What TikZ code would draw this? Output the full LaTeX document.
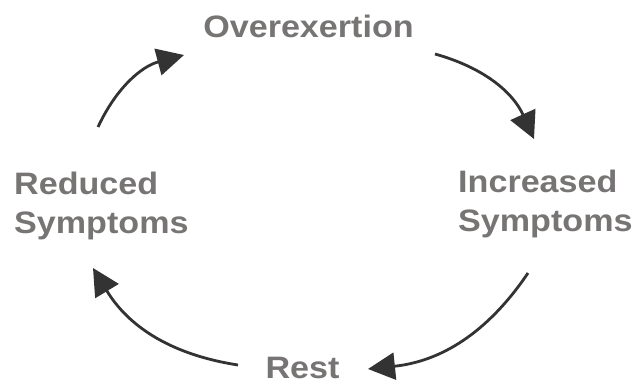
\documentclass[tikz,border=0pt]{standalone}
\usepackage{fontspec}
\setmainfont{Liberation Sans}
\usepackage{tikz}
\usetikzlibrary{arrows.meta}
\definecolor{labelgray}{RGB}{119,116,116}
\definecolor{arrowgray}{RGB}{51,51,51}

\begin{document}
\begin{tikzpicture}[x=1pt,y=1pt,
       lbl/.style={text=labelgray,font=\fontsize{31}{34.5}\selectfont\bfseries,inner sep=0pt,align=left,xscale=1.1,transform shape},
       cyc/.style={draw=arrowgray,line width=2.8pt,-{Triangle[length=27pt,width=27pt]},bend left=25}]
       \useasboundingbox (0,0) rectangle (642,384);
       \node[lbl,anchor=base] (over) at (308.5,347) {Overexertion};
       \node[lbl,anchor=north west] (incr) at (458,214.5) {Increased\\[5pt]Symptoms};
       \node[lbl,anchor=base] (rest) at (302.5,6) {Rest};
       \node[lbl,anchor=north west] (redu) at (14,212.5) {Reduced\\[5pt]Symptoms};
       \coordinate (a1) at ( 98,257); \coordinate (b1) at (184,329);
       \coordinate (a2) at (435,330); \coordinate (b2) at (534,245);
       \coordinate (a3) at (528,111); \coordinate (b3) at (368,15);
       \coordinate (a4) at (238, 19); \coordinate (b4) at ( 93,116);
       \draw[cyc] (a1) to (b1);
       \draw[cyc] (a2) to (b2);
       \draw[cyc] (a3) to (b3);
       \draw[cyc] (a4) to (b4);
      \end{tikzpicture}
\end{document}
